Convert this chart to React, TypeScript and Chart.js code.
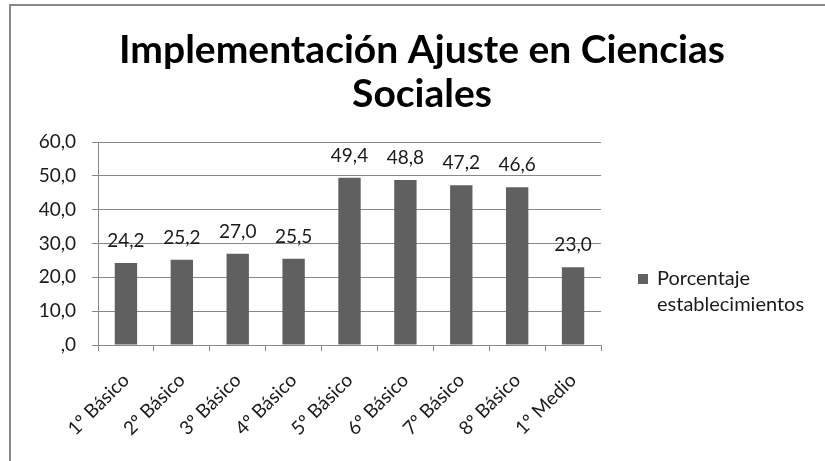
import React, { useEffect, useRef } from "react";
import { Chart, registerables, layouts } from "chart.js";

Chart.register(...registerables);

const titleLines = ["Implementación Ajuste en Ciencias", "Sociales"];
const categories = [
  "1º Básico",
  "2º Básico",
  "3º Básico",
  "4º Básico",
  "5º Básico",
  "6º Básico",
  "7º Básico",
  "8º Básico",
  "1º Medio",
];
const seriesLabel = "Porcentaje establecimientos";
const legendLines = ["Porcentaje", "establecimientos"];
const values = [24.2, 25.2, 27.0, 25.5, 49.4, 48.8, 47.2, 46.6, 23.0];
const yMin = 0;
const yMax = 60;
const yStep = 10;

const FONT = "Lato, 'Open Sans', sans-serif";
const BAR_COLOR = "#606060";
const GRID_COLOR = "#888888";
const TEXT_COLOR = "#1a1a1a";
const LEGEND_W = 224;
const SMALL = 19;

const fmt = (v: number) => (v === 0 ? ",0" : v.toFixed(1).replace(".", ","));

const sideLegend = {
  id: "sideLegend",
  beforeInit(chart: any) {
    const box: any = {
      position: "right",
      weight: 1000,
      fullSize: false,
      options: {},
      left: 0,
      top: 0,
      right: 0,
      bottom: 0,
      width: 0,
      height: 0,
      isHorizontal() {
        return false;
      },
      update(_maxW: number, maxH: number) {
        this.width = LEGEND_W;
        this.height = maxH;
      },
      getPadding() {
        return { top: 0, left: 0, right: 0, bottom: 0 };
      },
      draw() {
        const ctx = chart.ctx;
        const ds = chart.data.datasets[0];
        const x0 = this.left + 37;
        const yc = chart.chartArea.top + 137;
        ctx.save();
        ctx.fillStyle = ds.backgroundColor;
        ctx.fillRect(x0, yc - 5, 10, 10);
        ctx.fillStyle = TEXT_COLOR;
        ctx.font = `20px ${FONT}`;
        ctx.textBaseline = "middle";
        ctx.textAlign = "left";
        legendLines.forEach((l, i) => ctx.fillText(l, x0 + 19, yc + i * 26));
        ctx.restore();
      },
    };
    layouts.addBox(chart, box);
  },
};

const valueLabels = {
  id: "valueLabels",
  afterDatasetsDraw(chart: any) {
    const ctx = chart.ctx;
    const meta = chart.getDatasetMeta(0);
    const data = chart.data.datasets[0].data as number[];
    ctx.save();
    ctx.fillStyle = TEXT_COLOR;
    ctx.font = `${SMALL}px ${FONT}`;
    ctx.textAlign = "center";
    ctx.textBaseline = "alphabetic";
    meta.data.forEach((bar: any, i: number) => {
      ctx.fillText(fmt(data[i]), bar.x, bar.y - 16);
    });
    ctx.restore();
  },
};

export default function App() {
  const ref = useRef<HTMLCanvasElement>(null);

  useEffect(() => {
    if (!ref.current) return;
    const chart = new Chart(ref.current, {
      type: "bar",
      data: {
        labels: categories,
        datasets: [
          {
            label: seriesLabel,
            data: values,
            backgroundColor: BAR_COLOR,
            borderWidth: 0,
            categoryPercentage: 1,
            barPercentage: 0.4,
          },
        ],
      },
      options: {
        animation: false,
        responsive: false,
        devicePixelRatio: 1,
        layout: { padding: { left: 19, right: 0, top: 0, bottom: 0 } },
        plugins: {
          legend: { display: false },
          tooltip: { enabled: false },
          title: {
            display: true,
            text: titleLines,
            color: "#000",
            font: { family: FONT, size: 39, weight: "bold", lineHeight: 44 / 39 },
            padding: { top: 28, bottom: 26 },
          },
        },
        scales: {
          x: {
            offset: true,
            grid: {
              display: true,
              drawOnChartArea: false,
              drawTicks: true,
              tickLength: 6,
              color: GRID_COLOR,
              offset: true,
            },
            border: { color: GRID_COLOR },
            ticks: {
              autoSkip: false,
              minRotation: 45,
              maxRotation: 45,
              color: TEXT_COLOR,
              font: { family: FONT, size: SMALL },
              padding: 18,
            },
            afterFit(scale: any) {
              scale.height = 116;
            },
          },
          y: {
            min: yMin,
            max: yMax,
            grid: { color: GRID_COLOR, tickLength: 6 },
            border: { color: GRID_COLOR },
            ticks: {
              stepSize: yStep,
              callback: (v: any) => fmt(Number(v)),
              color: TEXT_COLOR,
              font: { family: FONT, size: SMALL },
              padding: 16,
            },
            afterFit(scale: any) {
              scale.width = 79;
            },
          },
        },
      },
      plugins: [sideLegend, valueLabels],
    } as any);
    return () => chart.destroy();
  }, []);

  return (
    <div
      style={{
        position: "fixed",
        left: 0,
        top: 0,
        width: 825,
        height: 461,
        background: "#fff",
        overflow: "hidden",
      }}
    >
      <div
        style={{
          position: "absolute",
          left: 9,
          top: 4,
          width: 900,
          height: 600,
          borderTop: "2px solid #8a8a8a",
          borderLeft: "2px solid #8a8a8a",
        }}
      />
      <canvas
        ref={ref}
        width={825}
        height={461}
        style={{ position: "absolute", left: 0, top: 0, width: 825, height: 461 }}
      />
    </div>
  );
}
